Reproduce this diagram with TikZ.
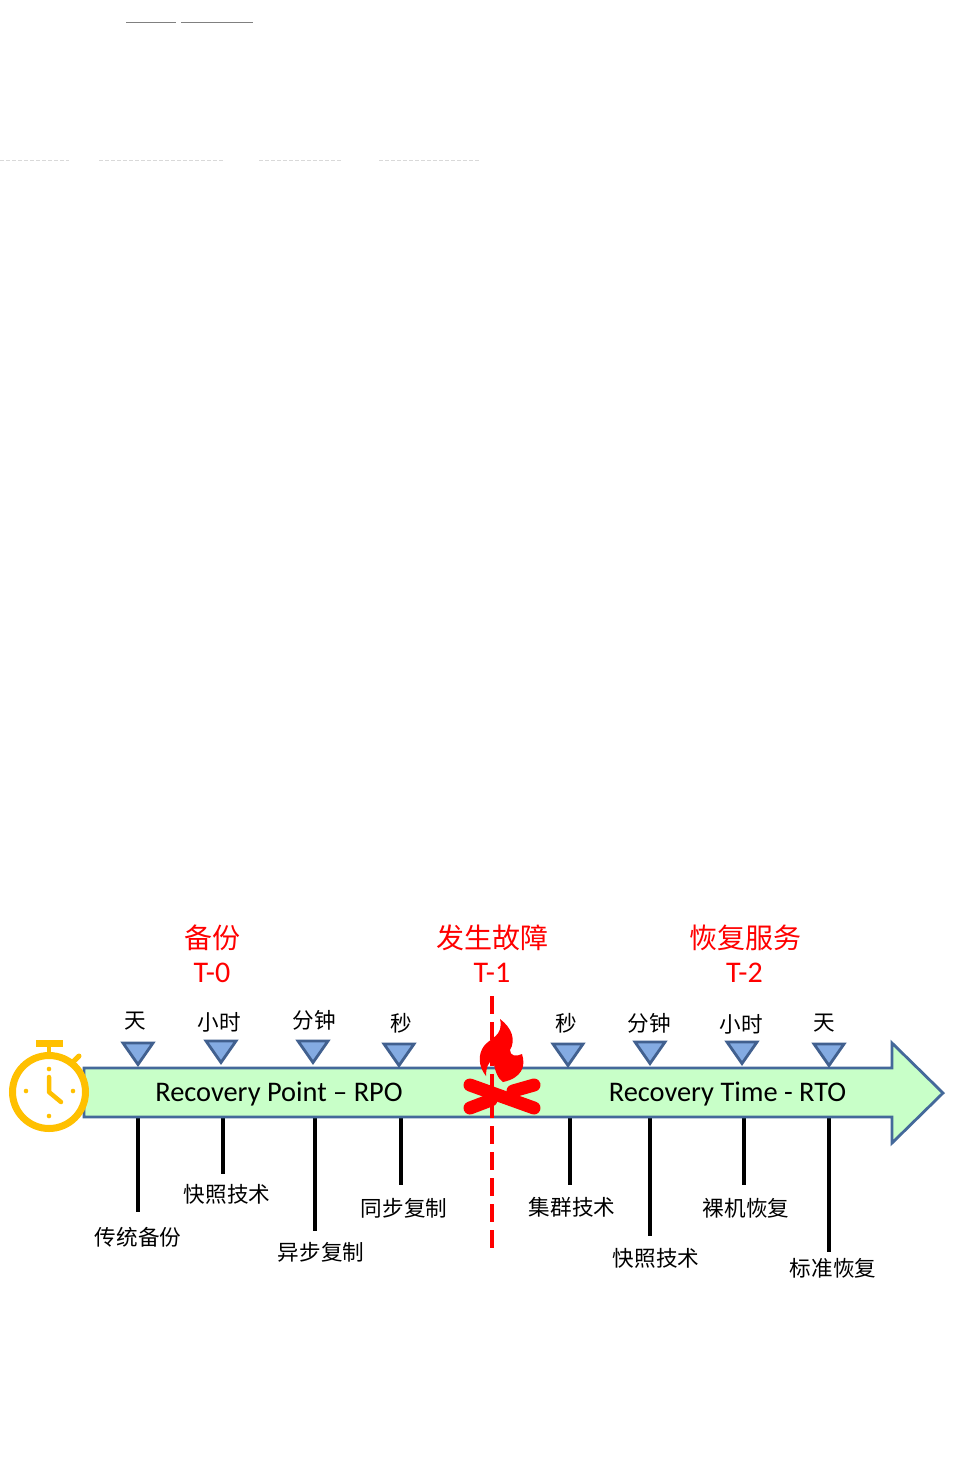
\documentclass[tikz,border=0pt]{standalone}
\usepackage{fontspec}
\setmainfont{Carlito}
\newfontfamily\cjk{Noto Sans CJK SC}
\tikzset{
  x=0.75pt,y=-0.75pt,
  band/.style={draw=arrowedge,fill=arrowfill,line width=2.8pt*0.75,line join=miter},
  tri/.style={draw=triedge,fill=trifill,line width=2.8pt*0.75,line join=miter},
  tick/.style={draw=black,line width=3.2pt*0.75},
  lbl/.style={font=\cjk\fontsize{16.2}{18}\selectfont,text=black,inner sep=0pt},
  redcjk/.style={font=\cjk\fontsize{21}{24}\selectfont,text=firered,inner sep=0pt},
  redlat/.style={font=\fontsize{22.5}{24}\selectfont,text=firered,inner sep=0pt},
  band text/.style={font=\fontsize{21.3}{24}\selectfont,text=black,inner sep=0pt},
  clockline/.style={draw=clockc,line width=4.5pt*0.75,line cap=round},
  clockdot/.style={fill=clockc,draw=none},
  log/.style={draw=firered,line width=13pt*0.75,line cap=round}
}
\definecolor{arrowedge}{HTML}{44699A}
\definecolor{arrowfill}{HTML}{C8FFC8}
\definecolor{triedge}{HTML}{41608F}
\definecolor{trifill}{HTML}{84ABE2}
\definecolor{firered}{HTML}{FF0000}
\definecolor{clockc}{HTML}{FFC000}
\begin{document}
\begin{tikzpicture}
\useasboundingbox (0,0) rectangle (968,1460);
\fill[white] (0,0) rectangle (968,1460);
% top artefacts
\draw[gray,line width=1.3pt*0.75] (126,22.5) -- (176,22.5);
\draw[gray,line width=1.3pt*0.75] (181,22.5) -- (253,22.5);
\foreach \a/\b in {0/69,99/223,259/342,379/479}
  \draw[black!15,line width=1pt*0.75,dash pattern=on 3pt off 1.5pt] (\a,160) -- (\b,160);
% ticks
\foreach \n/\x/\e in {a/138/1212,b/223/1174,c/315/1231,d/401/1185,e/570/1185,f/650/1236,g/744/1185,h/829/1252}{
  \coordinate (top\n) at (\x,1117);
  \coordinate (end\n) at (\x,\e);
  \draw[tick] (top\n) -- (end\n);
}
% arrow
\path[band] (84,1068) -- (892,1068) -- (892,1043) -- (943,1093) -- (892,1143) -- (892,1117) -- (84,1117) -- cycle;
% triangles
\foreach \x/\y in {138/1043,221/1041,313/1041,399/1044,568/1044,650/1042,742/1042,829/1044}
  \path[tri] (\x-15,\y) -- (\x+15,\y) -- (\x,\y+21.5) -- cycle;
% scale labels
\node[lbl] (n1) at (135,1021) {天};
\node[lbl] (n2) at (219,1022) {小时};
\node[lbl] (n3) at (314,1020) {分钟};
\node[lbl] (n4) at (401,1023) {秒};
\node[lbl] (n5) at (566,1023) {秒};
\node[lbl] (n6) at (649,1023) {分钟};
\node[lbl] (n7) at (741,1024) {小时};
\node[lbl] (n8) at (824,1023) {天};
% bottom labels
\node[lbl] (m1) at (138,1237) {传统备份};
\node[lbl] (m2) at (227,1194) {快照技术};
\node[lbl] (m3) at (321,1252) {异步复制};
\node[lbl] (m4) at (404,1208) {同步复制};
\node[lbl] (m5) at (572,1207) {集群技术};
\node[lbl] (m6) at (656,1258) {快照技术};
\node[lbl] (m7) at (746,1208) {裸机恢复};
\node[lbl] (m8) at (833,1268) {标准恢复};
% headings
\node[redcjk] (h1) at (212,938) {备份};
\node[redcjk] (h2) at (492.5,938) {发生故障};
\node[redcjk] (h3) at (745,938) {恢复服务};
\node[redlat] (t1) at (212,973) {T-0};
\node[redlat] (t2) at (492,973) {T-1};
\node[redlat] (t3) at (744.5,973) {T-2};
% band text
\node[band text] (rpo) at (279,1094) {Recovery Point – RPO};
\node[band text] (rto) at (727.5,1094) {Recovery Time - RTO};
% dashed fault line
\coordinate (failtop) at (492,996);
\coordinate (failend) at (492,1248);
\draw[firered,line width=3.5pt*0.75,dash pattern=on 13.5pt off 6pt] (failtop) -- (failend);
% fire
\path[fill=firered] (500,1019)
  .. controls (512,1028) and (516,1040) .. (510,1050)
  .. controls (510,1056) and (516,1057) .. (522,1054)
  .. controls (526,1066) and (522,1078) .. (503,1082)
  .. controls (497,1078) and (495,1070) .. (493,1060)
  .. controls (488,1062) and (486,1068) .. (486,1076)
  .. controls (478,1066) and (478,1054) .. (484,1046)
  .. controls (490,1038) and (504,1036) .. (500,1019) -- cycle;
\draw[log] (470,1085) -- (534,1108);
\draw[log] (470,1108) -- (491,1100);
\draw[log] (513,1091) -- (534,1085);
% stopwatch
\fill[clockc] (36,1040) rectangle (63,1047);
\draw[clockc,line width=4.5pt*0.75] (49,1047) -- (49,1054);
\draw[clockc,line width=5pt*0.75,line cap=round] (73,1062) -- (79,1056);
\draw[clockc,fill=white,line width=7pt*0.75] (49,1092) circle[radius=36.5];
\draw[clockline,line join=round] (49,1077) -- (49,1092) -- (61,1102);
\foreach \x/\y in {49/1069,49/1116,26/1091,73/1091}
  \fill[clockdot] (\x,\y) circle[radius=2.3];
\end{tikzpicture}
\end{document}
